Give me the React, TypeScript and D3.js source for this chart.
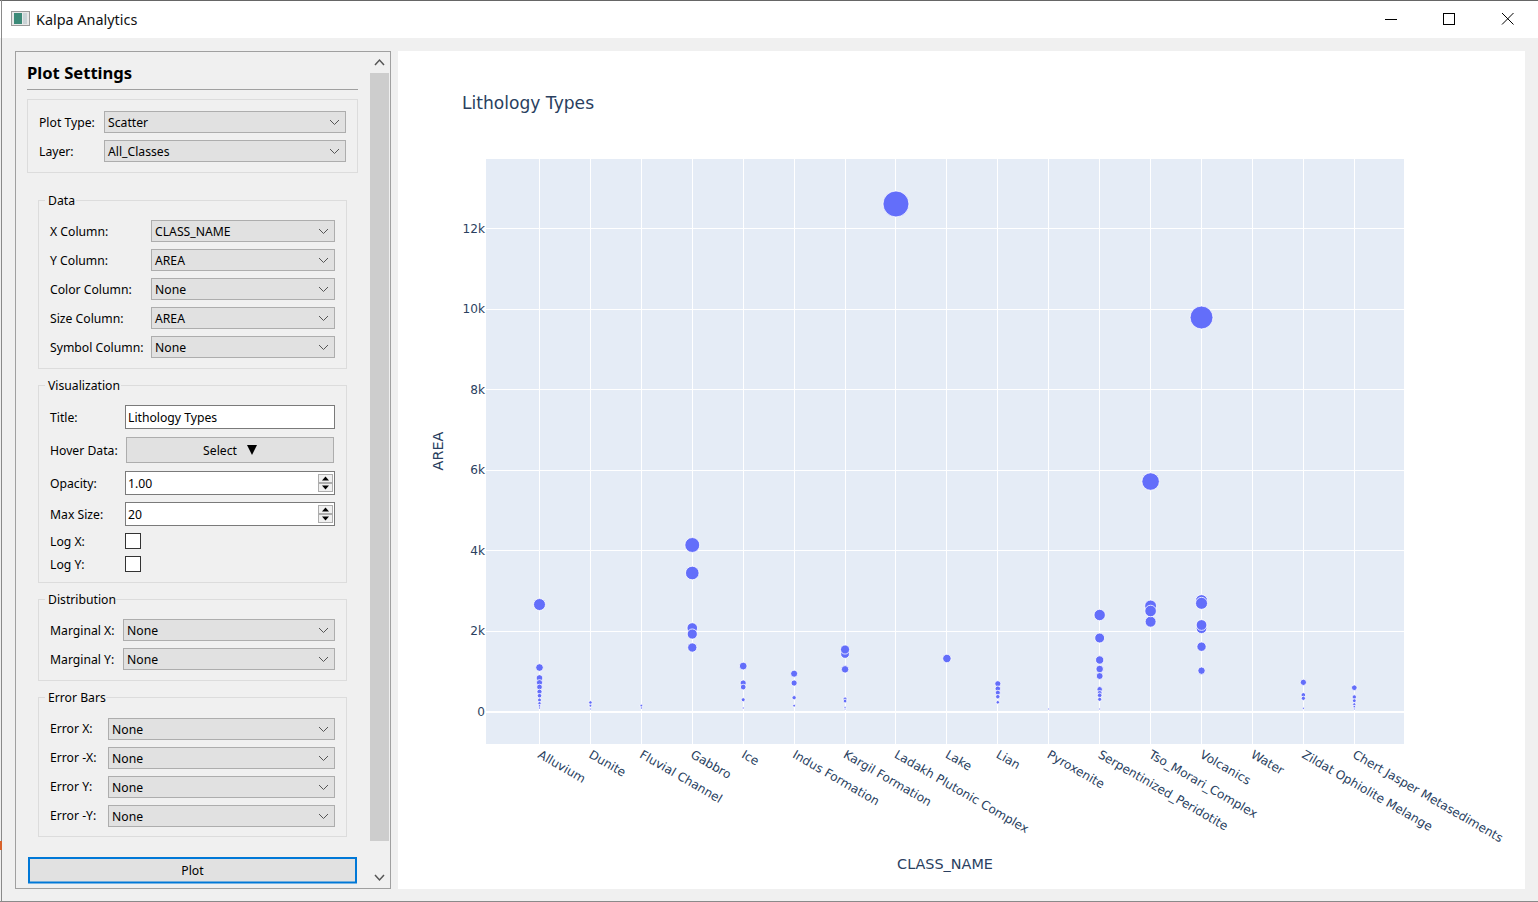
import * as d3 from "d3";
import {useEffect, useRef} from "react";

const categories = [
    "Alluvium", "Dunite", "Fluvial Channel", "Gabbro", "Ice", "Indus Formation", "Kargil Formation",
    "Ladakh Plutonic Complex", "Lake", "Lian", "Pyroxenite", "Serpentinized_Peridotite",
    "Tso_Morari_Complex", "Volcanics", "Water", "Zildat Ophiolite Melange", "Chert Jasper Metasediments"
];

const alluvium = [2658, 1093, 832, 716, 608, 492, 392, 286, 205, 137, 87];
const dunite = [224, 144, 62];
const fluvial = [144, 87];
const gabbro = [4137, 3441, 2075, 1925, 1590];
const ice = [1130, 708, 608, 293, 87];
const indus = [940, 708, 343, 144];
const kargil = [1430, 1540, 1048, 310, 260, 94, 60];
const ladakh = [12610];
const lake = [1317];
const lian = [690, 566, 467, 368, 229];
const pyroxenite = [62];
const serpentinized = [2398, 1826, 1280, 1056, 882, 552, 460, 402, 303, 62];
const tsoMorari = [5714, 2621, 2231, 2497];
const volcanics = [9789, 2753, 2688, 2067, 2149, 1610, 1014];
const water: number[] = [];
const zildat = [725, 410, 328, 80];
const chert = [591, 360, 268, 179, 119, 62];

const areaByClass = [
    alluvium, dunite, fluvial, gabbro, ice, indus, kargil, ladakh, lake, lian, pyroxenite,
    serpentinized, tsoMorari, volcanics, water, zildat, chert
];

const yTicks = [0, 2000, 4000, 6000, 8000, 10000, 12000];

const dataRows = [["X Column:", "CLASS_NAME"], ["Y Column:", "AREA"], ["Color Column:", "None"], ["Size Column:", "AREA"], ["Symbol Column:", "None"]];
const marginalRows = [["Marginal X:", "None"], ["Marginal Y:", "None"]];
const errorRows = [["Error X:", "None"], ["Error -X:", "None"], ["Error Y:", "None"], ["Error -Y:", "None"]];

const uiFont = "'Noto Sans', sans-serif";
const plotFont = "'DejaVu Sans', sans-serif";
const plotInk = "#2a3f5f";

const plot = {left: 486, right: 1404, top: 159, bottom: 744};

const Label = ({x, y, children, size = 12.2, weight = 400, anchor = "start"}: any) =>
    <text x={x} y={y + 1} dy="0.35em" fontSize={size} fontWeight={weight} textAnchor={anchor} fontFamily={uiFont} fill="#000">{children}</text>

const Combo = ({x, y, w, text}: any) => <g>
    <rect x={x + 0.5} y={y + 0.5} width={w} height={21} fill="#e1e1e1" stroke="#adadad"/>
    <text x={x + 4} y={y + 12} dy="0.35em" fontSize={12.2} fontFamily={uiFont} fill="#000">{text}</text>
    <path d={`M${x + w - 15} ${y + 9}l4.5 4.5l4.5 -4.5`} fill="none" stroke="#555" strokeWidth={1}/>
</g>

const Group = ({y, h, title}: any) => <g>
    <rect x={38.5} y={y + 0.5} width={308} height={h} fill="none" stroke="#dcdcdc"/>
    <rect x={45} y={y - 6} width={title.length * 5 + 11} height={12} fill="#f0f0f0"/>
    <Label x={48} y={y}>{title}</Label>
</g>

const Spin = ({y}: any) => <g>
    <rect x={125.5} y={y + 0.5} width={209} height={23} fill="#fff" stroke="#7a7a7a"/>
    <rect x={318.5} y={y + 3.5} width={14} height={8} fill="#f0f0f0" stroke="#adadad"/>
    <rect x={318.5} y={y + 12.5} width={14} height={8} fill="#f0f0f0" stroke="#adadad"/>
    <path d={`M322 ${y + 9.5}l3.5 -4l3.5 4z`} fill="#000"/>
    <path d={`M322 ${y + 14.5}l3.5 4l3.5 -4z`} fill="#000"/>
</g>

const SettingsPanel = () => <g>
    <rect x={15.5} y={51.5} width={375} height={837} fill="#f0f0f0" stroke="#a0a0a0"/>
    <rect x={370} y={52} width={20} height={836} fill="#f0f0f0"/>
    <rect x={370} y={73} width={19} height={768} fill="#cdcdcd"/>
    <path d="M375 65l4.5 -5l4.5 5" fill="none" stroke="#555" strokeWidth={1.5}/>
    <path d="M375 875l4.5 5l4.5 -5" fill="none" stroke="#555" strokeWidth={1.5}/>

    <Label x={27} y={72} size={16.6} weight={700}>Plot Settings</Label>
    <line x1={27} x2={358} y1={89.5} y2={89.5} stroke="#a0a0a0"/>

    <rect x={27.5} y={99.5} width={330} height={73} fill="none" stroke="#dcdcdc"/>
    <Label x={39} y={122}>Plot Type:</Label>
    <Combo x={104} y={111} w={241} text="Scatter"/>
    <Label x={39} y={151}>Layer:</Label>
    <Combo x={104} y={140} w={241} text="All_Classes"/>

    <Group y={200} h={168} title="Data"/>
    {dataRows.map(([label, value], i) => <g key={label}>
        <Label x={50} y={231 + i * 29}>{label}</Label>
        <Combo x={151} y={220 + i * 29} w={183} text={value}/>
    </g>)}

    <Group y={385} h={197} title="Visualization"/>
    <Label x={50} y={417}>Title:</Label>
    <rect x={125.5} y={405.5} width={209} height={23} fill="#fff" stroke="#7a7a7a"/>
    <Label x={128} y={417}>Lithology Types</Label>
    <Label x={50} y={450}>Hover Data:</Label>
    <rect x={126.5} y={437.5} width={207} height={25} fill="#e1e1e1" stroke="#adadad"/>
    <Label x={220} y={450} anchor="middle">Select</Label>
    <path d="M247 445h10l-5 10z" fill="#000"/>
    <Label x={50} y={483}>Opacity:</Label>
    <Spin y={471}/>
    <Label x={128} y={483}>1.00</Label>
    <Label x={50} y={514}>Max Size:</Label>
    <Spin y={502}/>
    <Label x={128} y={514}>20</Label>
    <Label x={50} y={541}>Log X:</Label>
    <rect x={125.5} y={533.5} width={15} height={15} fill="#fff" stroke="#333"/>
    <Label x={50} y={564}>Log Y:</Label>
    <rect x={125.5} y={556.5} width={15} height={15} fill="#fff" stroke="#333"/>

    <Group y={599} h={81} title="Distribution"/>
    {marginalRows.map(([label, value], i) => <g key={label}>
        <Label x={50} y={630 + i * 29}>{label}</Label>
        <Combo x={123} y={619 + i * 29} w={211} text={value}/>
    </g>)}

    <Group y={697} h={139} title="Error Bars"/>
    {errorRows.map(([label, value], i) => <g key={label}>
        <Label x={50} y={728 + i * 29}>{label}</Label>
        <Combo x={108} y={718 + i * 29} w={226} text={value}/>
    </g>)}

    <rect x={29} y={858} width={327} height={24.5} fill="#e1e1e1" stroke="#0078d7" strokeWidth={2}/>
    <Label x={192.5} y={870} anchor="middle">Plot</Label>
</g>

const App = () => {
    const chartRef = useRef(null)

    useEffect(() => {
        const g = d3.select(chartRef.current)
        g.selectAll("*").remove()

        const x = d3.scalePoint().domain(categories).range([539.5, 1354.3])
        const y = d3.scaleLinear().domain([-807, 13727]).range([plot.bottom, plot.top])
        const r = d3.scaleSqrt().domain([0, d3.max(ladakh)]).range([0, 13])

        g.append("rect")
            .attr("x", plot.left)
            .attr("y", plot.top)
            .attr("width", plot.right - plot.left)
            .attr("height", plot.bottom - plot.top)
            .attr("fill", "#e5ecf6")

        // сетка
        g.append("g").selectAll("line")
            .data(categories)
            .join("line")
            .attr("x1", d => x(d))
            .attr("x2", d => x(d))
            .attr("y1", plot.top)
            .attr("y2", plot.bottom)
            .attr("stroke", "#fff")
            .attr("stroke-width", 1)
            .attr("shape-rendering", "crispEdges")
        g.append("g").selectAll("line")
            .data(yTicks)
            .join("line")
            .attr("x1", plot.left)
            .attr("x2", plot.right)
            .attr("y1", d => y(d))
            .attr("y2", d => y(d))
            .attr("stroke", "#fff")
            .attr("stroke-width", d => d === 0 ? 2 : 1)
            .attr("shape-rendering", "crispEdges")

        // оси
        const xAxis = g.append("g")
            .attr("transform", `translate(0,${plot.bottom})`)
            .call(d3.axisBottom(x).tickSize(0))
        xAxis.select(".domain").remove()
        xAxis.selectAll("text")
            .attr("x", 0)
            .attr("y", 0)
            .attr("dy", 0)
            .attr("text-anchor", "start")
            .attr("transform", "translate(-3,13) rotate(30)")
            .attr("font-family", plotFont)
            .attr("font-size", 12.1)
            .attr("fill", plotInk)

        const yAxis = g.append("g")
            .attr("transform", `translate(${plot.left},0)`)
            .call(d3.axisLeft(y).tickValues(yTicks).tickSize(0).tickPadding(1)
                .tickFormat(d => d === 0 ? "0" : `${+d / 1000}k`))
        yAxis.select(".domain").remove()
        yAxis.selectAll("text")
            .attr("font-family", plotFont)
            .attr("font-size", 12.1)
            .attr("fill", plotInk)

        // точки
        categories.forEach((name, i) => {
            g.append("g").selectAll("circle")
                .data(areaByClass[i])
                .join("circle")
                .attr("cx", x(name))
                .attr("cy", d => y(d))
                .attr("r", d => r(d))
                .attr("fill", "#636efa")
                .attr("stroke", "#fff")
                .attr("stroke-width", 0.8)
        })

        g.append("text")
            .attr("x", 462)
            .attr("y", 109)
            .attr("font-family", plotFont)
            .attr("font-size", 17.1)
            .attr("fill", plotInk)
            .text("Lithology Types")
        g.append("text")
            .attr("x", 945)
            .attr("y", 869)
            .attr("text-anchor", "middle")
            .attr("font-family", plotFont)
            .attr("font-size", 14.4)
            .attr("fill", plotInk)
            .text("CLASS_NAME")
        g.append("text")
            .attr("transform", "translate(443,451) rotate(-90)")
            .attr("text-anchor", "middle")
            .attr("font-family", plotFont)
            .attr("font-size", 14.4)
            .attr("fill", plotInk)
            .text("AREA")
    }, [])

    return <svg width={1538} height={902} style={{position: "absolute", left: 0, top: 0, display: "block"}}>
        <rect width={1538} height={902} fill="#f0f0f0"/>
        <rect width={1538} height={38} fill="#fff"/>
        <rect width={1538} height={1} fill="#666"/>
        <rect x={1} width={1} height={902} fill="#8a8a8a"/>
        <rect y={901} width={1538} height={1} fill="#8a8a8a"/>
        <rect x={0} y={841} width={2} height={9} fill="#d9622b"/>

        <rect x={11.5} y={11.5} width={18} height={14} fill="#e8e8e8" stroke="#9a9a9a"/>
        <rect x={14} y={13} width={8} height={11} fill="#3c8a78"/>
        <rect x={23} y={13} width={4} height={11} fill="#c9d3d6"/>
        <text x={36} y={25} fontSize={14.4} fontFamily={uiFont} fill="#111">Kalpa Analytics</text>
        <path d="M1385 19.5h12" stroke="#000"/>
        <rect x={1443.5} y={13.5} width={11} height={11} fill="none" stroke="#000"/>
        <path d="M1502 13l11.5 11.5M1513.5 13l-11.5 11.5" stroke="#000"/>

        <SettingsPanel/>
        <rect x={398} y={51} width={1127} height={838} fill="#fff"/>
        <g ref={chartRef}/>
    </svg>
}

export default App
